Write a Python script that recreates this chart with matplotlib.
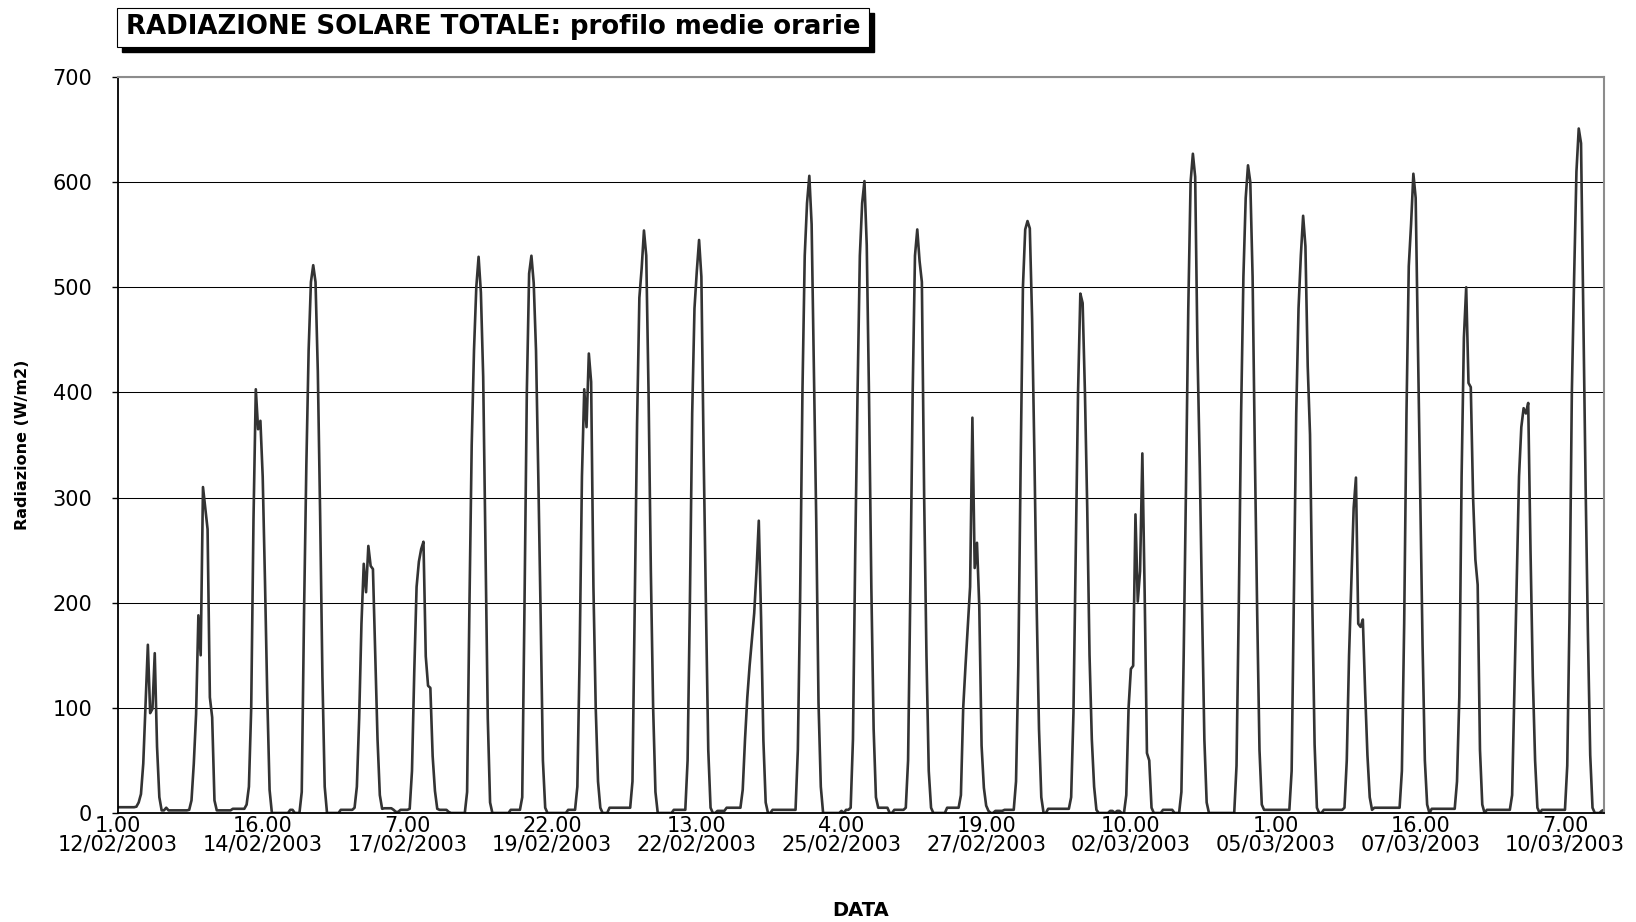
import numpy as np
import matplotlib
matplotlib.use("Agg")
import matplotlib.pyplot as plt
from matplotlib.patches import Rectangle

# Hourly mean total solar radiation (W/m2), one row per day, hours 1.00 ... 24.00
HOURLY_BY_DAY = [
    [5.5, 5.5, 5.5, 5.5, 5.5, 5.5, 5.5, 5.5, 6, 10, 18, 47, 104, 160, 95, 99, 152, 63, 15, 2.5, 2.5, 5, 2.5, 2.5],      # 12/02
    [2.5, 2.5, 2.5, 2.5, 2.5, 2.5, 2.5, 3, 12, 47, 94, 188, 150, 310, 290, 270, 110, 91, 12, 2.5, 2.5, 2.5, 2.5, 2.5],  # 13/02
    [2.5, 2.5, 4, 4, 4, 4, 4, 4, 8, 25, 100, 280, 403, 365, 373, 320, 220, 110, 22, 0, 0, 0, 0, 0],                     # 14/02
    [0, 0, 0, 3, 3, 0, 0, 0, 20, 190, 330, 440, 505, 521, 505, 420, 285, 130, 25, 0, 0, 0, 0, 0],                       # 15/02
    [0, 3, 3, 3, 3, 3, 3, 5, 25, 90, 180, 237, 210, 254, 235, 232, 150, 70, 17, 4, 4.5, 4.5, 4.5, 4.5],                 # 16/02
    [3, 1, 1, 3, 3, 3, 3, 4, 40, 135, 215, 239, 251, 258, 149, 121, 119, 54, 21, 4, 3, 3, 3, 3],                        # 17/02
    [1, 0, 0, 0, 0, 0, 0, 0, 20, 195, 350, 440, 500, 529, 495, 415, 250, 90, 10, 0, 0, 0, 0, 0],                        # 18/02
    [0, 0, 0, 3, 3, 3, 3, 3, 15, 200, 400, 513, 530, 504, 440, 320, 190, 50, 5, 0, 0, 0, 0, 0],                         # 19/02
    [0, 0, 0, 0, 3, 3, 3, 3, 25, 150, 320, 403, 367, 437, 410, 215, 100, 30, 5, 0, 0, 0, 5, 5],                         # 20/02
    [5, 5, 5, 5, 5, 5, 5, 5, 30, 200, 370, 490, 518, 554, 530, 400, 230, 100, 20, 0, 0, 0, 0, 0],                       # 21/02
    [0, 0, 3, 3, 3, 3, 3, 3, 50, 200, 380, 480, 515, 545, 510, 340, 195, 60, 5, 0, 0, 2, 2, 2],                         # 22/02
    [2, 5, 5, 5, 5, 5, 5, 5, 22, 70, 110, 140, 165, 190, 230, 278, 185, 69, 10, 0, 0, 3, 3, 3],                         # 23/02
    [3, 3, 3, 3, 3, 3, 3, 3, 60, 205, 400, 530, 580, 606, 560, 420, 280, 105, 25, 0, 0, 0, 0, 0],                       # 24/02
    [0, 0, 0, 2, 0, 3, 3, 5, 70, 250, 400, 530, 580, 601, 540, 395, 215, 80, 15, 5, 5, 5, 5, 5],                        # 25/02
    [0, 0, 3, 3, 3, 3, 3, 5, 50, 215, 400, 530, 555, 525, 505, 300, 150, 40, 5, 0, 0, 0, 0, 0],                         # 26/02
    [0, 5, 5, 5, 5, 5, 5, 17, 100, 140, 177, 215, 376, 233, 257, 196, 64, 24, 7, 2, 0, 0, 2, 2],                        # 27/02
    [2, 2, 3, 3, 3, 3, 3, 30, 140, 330, 500, 555, 563, 556, 470, 340, 195, 80, 15, 0, 0, 4, 4, 4],                      # 28/02
    [4, 4, 4, 4, 4, 4, 4, 15, 95, 250, 400, 494, 485, 400, 290, 150, 70, 25, 3, 0, 0, 0, 0, 0],                         # 01/03
    [2, 2, 0, 2, 2, 0, 0, 17, 100, 137, 140, 284, 201, 230, 342, 210, 57, 50, 5, 0, 0, 0, 0, 3],                        # 02/03
    [3, 3, 3, 3, 0, 0, 0, 20, 150, 310, 480, 600, 627, 605, 440, 330, 195, 70, 10, 0, 0, 0, 0, 0],                      # 03/03
    [0, 0, 0, 0, 0, 0, 0, 45, 200, 380, 510, 585, 616, 600, 510, 340, 190, 60, 8, 3, 3, 3, 3, 3],                      # 04/03
    [3, 3, 3, 3, 3, 3, 3, 40, 210, 380, 480, 530, 568, 539, 425, 360, 200, 65, 5, 0, 0, 3, 3, 3],                       # 05/03
    [3, 3, 3, 3, 3, 3, 5, 50, 150, 220, 290, 319, 180, 177, 184, 115, 55, 15, 3, 5, 5, 5, 5, 5],                        # 06/03
    [5, 5, 5, 5, 5, 5, 5, 40, 180, 380, 520, 560, 608, 585, 445, 300, 160, 50, 8, 0, 4, 4, 4, 4],                       # 07/03
    [4, 4, 4, 4, 4, 4, 4, 30, 110, 320, 452, 500, 409, 405, 300, 241, 217, 60, 8, 0, 3, 3, 3, 3],                       # 08/03
    [3, 3, 3, 3, 3, 3, 3, 17, 120, 220, 320, 367, 385, 380, 390, 250, 130, 50, 5, 0, 3, 3, 3, 3],                       # 09/03
    [3, 3, 3, 3, 3, 3, 3, 45, 190, 400, 510, 610, 651, 637, 470, 310, 170, 55, 5, 0, 0, 0, 2, 3],                       # 10/03
]

TICK_HOURS = ["1.00", "16.00", "7.00", "22.00", "13.00", "4.00",
              "19.00", "10.00", "1.00", "16.00", "7.00"]
TICK_DATES = ["12/02/2003", "14/02/2003", "17/02/2003", "19/02/2003",
              "22/02/2003", "25/02/2003", "27/02/2003", "02/03/2003",
              "05/03/2003", "07/03/2003", "10/03/2003"]
TICK_EVERY = 63          # one category label every 63 hourly samples
Y_TICKS = [0, 100, 200, 300, 400, 500, 600, 700]

TITLE = "RADIAZIONE SOLARE TOTALE: profilo medie orarie"
Y_LABEL = "Radiazione (W/m2)"
X_LABEL = "DATA"

radiation = np.concatenate([np.asarray(day, dtype=float) for day in HOURLY_BY_DAY])
samples = np.arange(radiation.size)

plt.rcParams["font.family"] = ["DejaVu Sans"]

W, H = 1636, 922
fig = plt.figure(figsize=(W / 100, H / 100), dpi=100)
fig.patch.set_facecolor("white")


def px_box(left, top, right, bottom):
    """Figure-fraction rectangle [x, y, w, h] from pixel edges (origin top-left)."""
    return [left / W, 1 - bottom / H, (right - left) / W, (bottom - top) / H]


ax = fig.add_axes(px_box(118, 77, 1604, 813))
ax.plot(samples, radiation, color="#333333", lw=1.9, solid_joinstyle="round")

ax.set_xlim(0, radiation.size - 1)
ax.set_ylim(Y_TICKS[0], Y_TICKS[-1])

ax.set_yticks(Y_TICKS)
ax.set_yticklabels([str(v) for v in Y_TICKS])
ax.yaxis.grid(True, color="black", lw=0.75)
ax.set_axisbelow(True)

# Category labels: hour on the first row (major), date on the second (minor)
tick_pos = [i * TICK_EVERY for i in range(len(TICK_HOURS))]
ax.xaxis.remove_overlapping_locs = False
ax.set_xticks(tick_pos)
ax.set_xticklabels(TICK_HOURS)
ax.set_xticks(tick_pos, minor=True)
ax.set_xticklabels(TICK_DATES, minor=True)

ax.tick_params(axis="y", direction="out", length=4.5, width=1.0,
               color="black", labelsize=15, pad=14)
ax.tick_params(axis="x", which="major", length=0, labelsize=15, pad=1.8)
ax.tick_params(axis="x", which="minor", length=0, labelsize=15, pad=15.3)

for side in ("left", "bottom"):
    ax.spines[side].set_color("black")
    ax.spines[side].set_linewidth(1.3)
for side in ("top", "right"):
    ax.spines[side].set_color("#8c8c8c")
    ax.spines[side].set_linewidth(1.5)

# Axis titles
fig.text(23 / W, 1 - 445 / H, Y_LABEL, rotation=90, ha="center", va="center",
         fontsize=11.5, fontweight="bold")
fig.text(861 / W, 1 - 910 / H, X_LABEL, ha="center", va="center",
         fontsize=14, fontweight="bold")

# Title in a framed box with a drop shadow
box_l, box_t, box_r, box_b = 117, 8, 869, 47
shadow = 5
sx, sy, sw, sh = px_box(box_l + shadow, box_t + shadow, box_r + shadow, box_b + shadow)
fig.patches.append(Rectangle((sx, sy), sw, sh, transform=fig.transFigure,
                             facecolor="black", edgecolor="black", zorder=1))
bx, by, bw, bh = px_box(box_l, box_t, box_r, box_b)
fig.patches.append(Rectangle((bx, by), bw, bh, transform=fig.transFigure,
                             facecolor="white", edgecolor="black", lw=0.8,
                             zorder=2))
title = fig.text((box_l + box_r) / 2 / W, 1 - (box_t + box_b) / 2 / H, TITLE,
                 ha="center", va="center", fontsize=16, fontweight="bold",
                 zorder=3)

# Fit the title to the width of its frame
renderer = fig.canvas.get_renderer()
tw = title.get_window_extent(renderer).width
title.set_fontsize(16 * 736 / tw)

fig.savefig("out.png", dpi=100, facecolor="white")
